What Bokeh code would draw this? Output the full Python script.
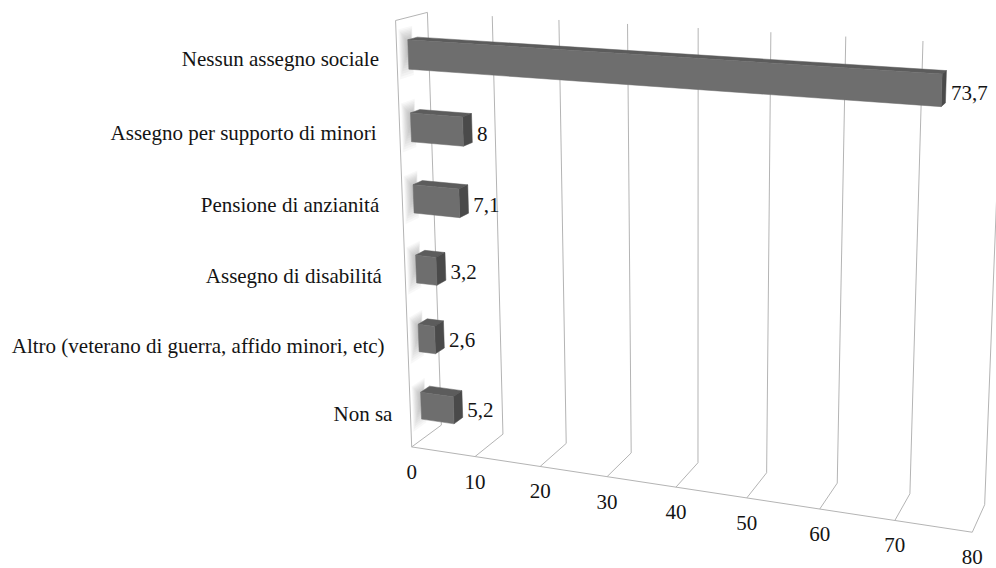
import numpy as np
from bokeh.plotting import figure
from bokeh.models import Range1d
from bokeh.embed import file_html
from bokeh.resources import INLINE
from bokeh.core.properties import value

# ---- data -------------------------------------------------------------
categories = [
    "Nessun assegno sociale",
    "Assegno per supporto di minori ",
    "Pensione di anzianitá ",
    "Assegno di disabilitá ",
    "Altro (veterano di guerra, affido minori, etc) ",
    "Non sa",
]
percent = [73.7, 8, 7.1, 3.2, 2.6, 5.2]
x_ticks = [0, 10, 20, 30, 40, 50, 60, 70, 80]
X_MAX = 80

# ---- 3-D frame: where the corners of the plot box land on the page ----
# world coords: X = value (0..X_MAX), Y = height (0 floor .. 1 top), Z = depth (0 front .. 1 back)
BOX_CORNERS = [
    ((0, 0, 0), (412, 448)),
    ((X_MAX, 0, 0), (972, 530)),
    ((0, 1, 0), (394, 20)),
    ((0, 0, 1), (440, 423)),
    ((X_MAX, 0, 1), (984, 506)),
    ((0, 1, 1), (428, 12)),
    ((X_MAX, 1, 1), (1002, 45)),
]


def fit_camera(pairs):
    rows = []
    for (X, Y, Z), (u, v) in pairs:
        X = X / X_MAX
        u, v = u / 1000.0, v / 1000.0
        rows.append([X, Y, Z, 1, 0, 0, 0, 0, -u * X, -u * Y, -u * Z, -u])
        rows.append([0, 0, 0, 0, X, Y, Z, 1, -v * X, -v * Y, -v * Z, -v])
    _, _, vt = np.linalg.svd(np.array(rows, dtype=float))
    return vt[-1].reshape(3, 4)


CAM = fit_camera(BOX_CORNERS)


def proj(X, Y, Z):
    X = np.asarray(X, dtype=float) / X_MAX
    Y = np.asarray(Y, dtype=float)
    Z = np.asarray(Z, dtype=float)
    h = np.stack(np.broadcast_arrays(X, Y, Z, np.ones_like(X + Y + Z)))
    r = np.tensordot(CAM, h, axes=1)
    return (r[0] / r[2] * 1000.0).tolist(), (r[1] / r[2] * 1000.0).tolist()


def quad(pts):
    xs, ys = [], []
    for X, Y, Z in pts:
        x, y = proj(X, Y, Z)
        xs.append(x)
        ys.append(y)
    return xs, ys


# ---- figure -------------------------------------------------------------
W, H = 996, 568
p = figure(width=W, height=H, x_range=Range1d(0, W), y_range=Range1d(H, 0),
           output_backend="svg", toolbar_location=None, min_border=0)
p.axis.visible = False
p.grid.visible = False
p.outline_line_color = None
p.background_fill_color = "white"
p.border_fill_color = "white"

n = len(categories)
band = 1.0 / n
bar_h = 0.4 * band
Z0, Z1 = 0.35, 0.65
yc = [(n - 1 - i + 0.5) * band for i in range(n)]

# soft shadows on the side wall behind each bar
sh_xs, sh_ys = [], []
for i in range(n):
    y0, y1 = yc[i] - bar_h / 2, yc[i] + bar_h / 2
    for k in range(10):
        s = k / 9
        cy = y1 - 0.2 * bar_h
        hy = bar_h * (1.05 - 0.75 * s)
        za = max(0.03, Z0 - 0.28 * (1 - 0.85 * s))
        zb = Z0 + 0.15 * (1 - 0.5 * s)
        xs, ys = quad([(0, cy - hy, za), (0, cy + hy * 0.6, za), (0, cy + hy * 0.6, zb), (0, cy - hy, zb)])
        sh_xs.append(xs)
        sh_ys.append(ys)
p.patches(sh_xs, sh_ys, fill_color="#5a5a5a", fill_alpha=0.045, line_color=None)

# grid: vertical on back wall, then across the floor to the front edge
grid_xs, grid_ys = [], []
for t in x_ticks:
    xs, ys = quad([(t, 1, 1), (t, 0, 1), (t, 0, 0)])
    grid_xs.append(xs)
    grid_ys.append(ys)
# front floor edge and side wall outline
xs, ys = quad([(0, 0, 0), (X_MAX, 0, 0)])
grid_xs.append(xs); grid_ys.append(ys)
xs, ys = quad([(0, 0, 0), (0, 1, 0), (0, 1, 1)])
grid_xs.append(xs); grid_ys.append(ys)
p.multi_line(grid_xs, grid_ys, line_color="#b4b4b4", line_width=1)

# bars: front, top and end faces
front_x, front_y, top_x, top_y, end_x, end_y = [], [], [], [], [], []
for i, v in enumerate(percent):
    y0, y1 = yc[i] - bar_h / 2, yc[i] + bar_h / 2
    xs, ys = quad([(0, y0, Z0), (v, y0, Z0), (v, y1, Z0), (0, y1, Z0)])
    front_x.append(xs); front_y.append(ys)
    xs, ys = quad([(0, y1, Z0), (v, y1, Z0), (v, y1, Z1), (0, y1, Z1)])
    top_x.append(xs); top_y.append(ys)
    xs, ys = quad([(v, y0, Z0), (v, y1, Z0), (v, y1, Z1), (v, y0, Z1)])
    end_x.append(xs); end_y.append(ys)
p.patches(top_x, top_y, fill_color="#5c5c5c", line_color="#5c5c5c", line_width=0.5)
p.patches(end_x, end_y, fill_color="#4a4a4a", line_color="#4a4a4a", line_width=0.5)
p.patches(front_x, front_y, fill_color="#6e6e6e", line_color="#6e6e6e", line_width=0.5)

FONT = value("Liberation Serif")
SIZE = "21px"
INK = "#141414"

# value labels just past the end face of each bar
lx, ly, lt = [], [], []
for i, v in enumerate(percent):
    x, y = proj(v, yc[i], Z1)
    lx.append(x + 5)
    ly.append(y + 6)
    lt.append(f"{v:g}".replace(".", ","))
p.text(lx, ly, text=lt, text_font=FONT, text_font_size=SIZE, text_color=INK,
       text_align="left", text_baseline="middle")

# category labels beside the side wall
cx, cy_, ct = [], [], []
for i, c in enumerate(categories):
    x, y = proj(0, yc[i], 0)
    cx.append(x - 18)
    cy_.append(y + 1)
    ct.append(c)
p.text(cx, cy_, text=ct, text_font=FONT, text_font_size=SIZE, text_color=INK,
       text_align="right", text_baseline="middle")

# value axis tick labels under the front edge
tx, ty, tt = [], [], []
for t in x_ticks:
    x, y = proj(t, 0, 0)
    tx.append(x)
    ty.append(y + 25)
    tt.append(str(t))
p.text(tx, ty, text=tt, text_font=FONT, text_font_size=SIZE, text_color=INK,
       text_align="center", text_baseline="middle")

open("out.html", "w").write(file_html(p, INLINE))
